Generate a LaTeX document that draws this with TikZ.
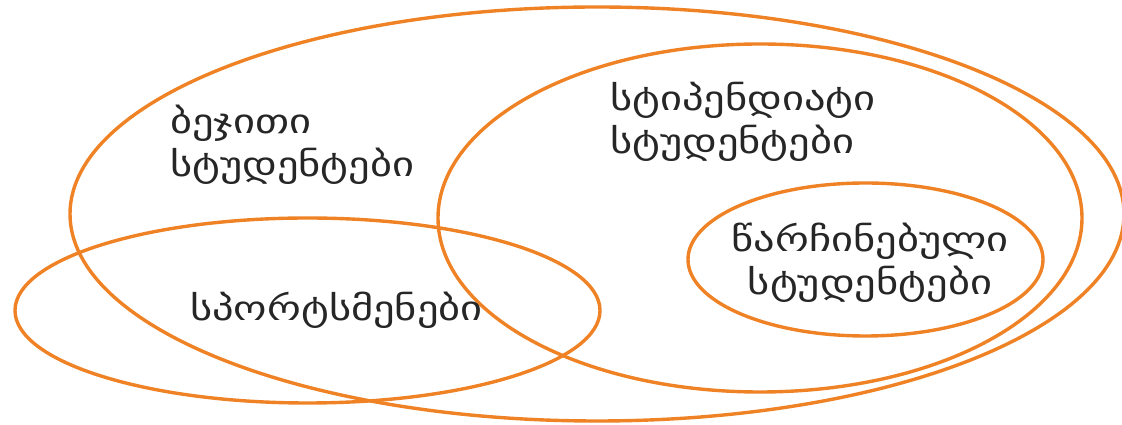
\documentclass[tikz,border=0pt]{standalone}
\usepackage{fontspec}
\newfontfamily\geofont[FakeStretch=1.25]{DejaVu Sans}
\definecolor{setorange}{RGB}{240,130,38}
\begin{document}
\begin{tikzpicture}[x=1pt,y=1pt,
  setline/.style={draw=setorange,line width=3.4pt},
  label/.style={font=\geofont\fontsize{34}{43}\selectfont,text=black!85,inner sep=0pt}]
\useasboundingbox (0,0) rectangle (1122,425);
% big ellipse: diligent students
\draw[setline] (597,211) ellipse [x radius=527,y radius=207];
% scholarship students
\draw[setline] (760,207) ellipse [x radius=322,y radius=174];
% excellent students
\draw[setline] (865.5,165.5) ellipse [x radius=177.5,y radius=76.5];
% athletes
\draw[setline] (307.5,114.5) ellipse [x radius=292.5,y radius=92.5];
\node[label,anchor=west,align=left] (diligent) at (170,280) {ბეჯითი\\სტუდენტები};
\node[label,anchor=west,align=left] (scholar) at (610,303) {სტიპენდიატი\\სტუდენტები};
\node[label,anchor=center,align=center] (excellent) at (870,162) {წარჩინებული\\სტუდენტები};
\node[label,anchor=west] (athletes) at (190,115) {სპორტსმენები};
\end{tikzpicture}
\end{document}
